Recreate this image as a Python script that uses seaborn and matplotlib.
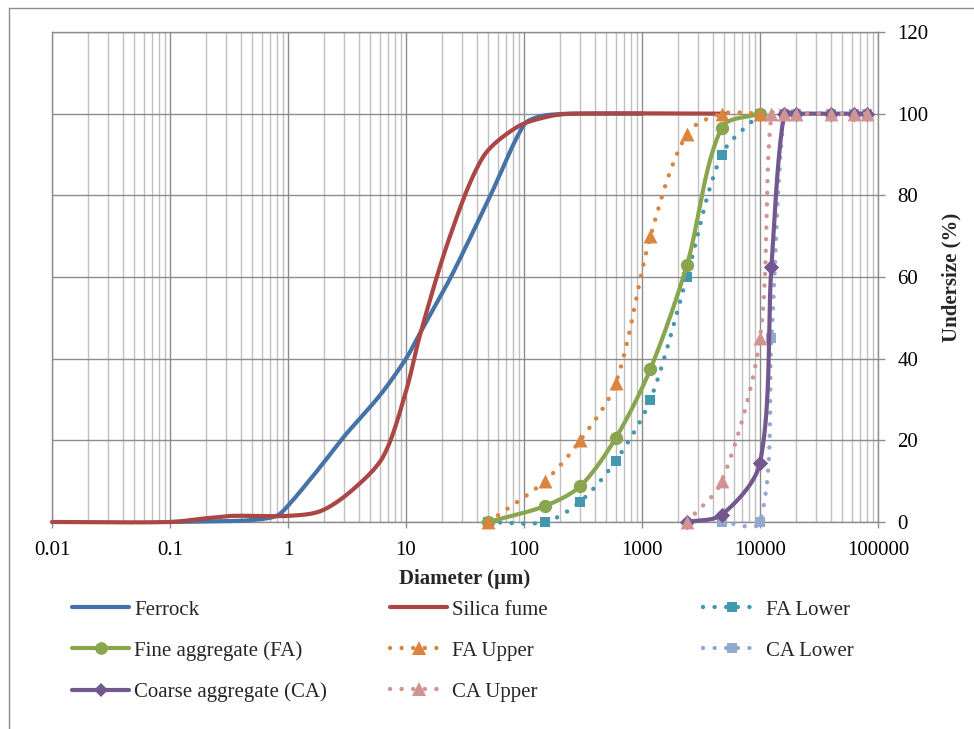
import numpy as np
import pandas as pd
import matplotlib
matplotlib.use("Agg")
import matplotlib.pyplot as plt
from matplotlib.lines import Line2D
from matplotlib.ticker import LogLocator, FixedLocator, FixedFormatter, NullFormatter
import seaborn as sns

# ---------------- data ----------------
ferrock_x = [0.1, 0.3, 0.5, 0.8, 1.0, 1.5, 2.0, 3.0, 6.0, 10, 13, 24, 52, 100, 135, 200, 300, 1000]
ferrock_y = [0, 0.2, 0.5, 1.5, 4.0, 10.0, 14.5, 21.0, 31.0, 40.0, 46.0, 60.0, 80.0, 97.3, 99.3, 99.9, 100, 100]

silica_x = [0.01, 0.1, 0.2, 0.34, 1.0, 1.9, 3.5, 6.4, 10, 13.2, 23.6, 45, 87, 160, 260, 5000]
silica_y = [0, 0, 0.9, 1.5, 1.5, 2.7, 7.8, 16.0, 32.0, 46.0, 70.0, 89.4, 96.7, 99.3, 100, 100]

fa_sieves = [50, 150, 300, 600, 1180, 2400, 4750, 10000]
fa_y = [0, 3.9, 8.8, 20.6, 37.5, 62.9, 96.6, 100]
fa_lower_y = [0, 0, 5, 15, 30, 60, 90, 100]
fa_upper_y = [0, 10, 20, 34, 70, 95, 100, 100]

ca_sieves = [2400, 4750, 10000, 12500, 16000, 20000, 40000, 63000, 80000]
ca_y = [0, 1.8, 14.5, 62.5, 100, 100, 100, 100, 100]
ca_upper_y = [0, 10, 45, 100, 100, 100, 100, 100, 100]
ca_lower_sieves = [4750, 10000, 12500, 16000, 20000, 40000, 63000, 80000]
ca_lower_y = [0, 0, 45, 100, 100, 100, 100, 100]

x_ticks = [0.01, 0.1, 1, 10, 100, 1000, 10000, 100000]
x_tick_labels = ["0.01", "0.1", "1", "10", "100", "1000", "10000", "100000"]
y_ticks = [0, 20, 40, 60, 80, 100, 120]
y_tick_labels = ["0", "20", "40", "60", "80", "100", "120"]

names = ["Ferrock", "Silica fume", "FA Lower", "Fine aggregate (FA)", "FA Upper",
         "CA Lower", "Coarse aggregate (CA)", "CA Upper"]

# ---------------- style ----------------
sns.set_theme(style="white")
plt.rcParams['font.family'] = ['Liberation Serif', 'DejaVu Serif']

W, H = 974, 729
fig = plt.figure(figsize=(W / 100, H / 100), dpi=100)
ax = fig.add_axes([52 / W, 1 - 522 / H, 826 / W, 490 / H])

PXDEC = 118.0
PXY = 490.0 / 120.0


def smooth(xs, ys, n=40, k=0.3):
    """Smoothed line through the points (Bezier, tangent scaled by chord length),
    computed in screen-like space."""
    u = np.log10(np.asarray(xs, float)) * PXDEC
    v = np.asarray(ys, float) * PXY
    P = np.column_stack([u, v])
    if len(P) < 3:
        return np.asarray(xs, float), np.asarray(ys, float)
    E = np.vstack([P[0], P, P[-1]])
    D = []
    for i in range(len(P)):
        d = E[i + 2] - E[i]
        nrm = np.hypot(*d)
        D.append(d / nrm if nrm > 0 else np.zeros(2))
    D = np.array(D)
    t = np.linspace(0, 1, n)[:, None]
    segs = []
    for i in range(len(P) - 1):
        p1, p2 = P[i], P[i + 1]
        L = np.hypot(*(p2 - p1))
        c1 = p1 + D[i] * L * k
        c2 = p2 - D[i + 1] * L * k
        seg = (1 - t) ** 3 * p1 + 3 * (1 - t) ** 2 * t * c1 + 3 * (1 - t) * t ** 2 * c2 + t ** 3 * p2
        segs.append(seg if i == 0 else seg[1:])
    S = np.vstack(segs)
    return 10 ** (S[:, 0] / PXDEC), S[:, 1] / PXY


DOT = (0, (0.01, 2.6))
series = [
    # name, x, y, color, linestyle, marker, marker size (pt)
    (names[0], ferrock_x, ferrock_y, "#4572A7", "-", None, 0),
    (names[1], silica_x, silica_y, "#AA4643", "-", None, 0),
    (names[2], fa_sieves, fa_lower_y, "#4198AF", DOT, "s", 7.8),
    (names[3], fa_sieves, fa_y, "#89A54E", "-", "o", 9.6),
    (names[4], fa_sieves, fa_upper_y, "#DB843D", DOT, "^", 10.0),
    (names[5], ca_lower_sieves, ca_lower_y, "#93A9CF", DOT, "s", 7.8),
    (names[6], ca_sieves, ca_y, "#71588F", "-", "D", 7.8),
    (names[7], ca_sieves, ca_upper_y, "#D09493", DOT, "^", 10.0),
]

handles = {}
z = 3
for name, xs, ys, col, ls, mk, ms in series:
    sx, sy = smooth(xs, ys)
    solid = ls == "-"
    lw = 3.0 if solid else 3.2
    sns.lineplot(x=sx, y=sy, sort=False, estimator=None, color=col, ax=ax,
                 linewidth=lw, linestyle=ls, dash_capstyle="round",
                 solid_capstyle="round", zorder=z, clip_on=False, legend=False)
    z += 1
    if mk is not None:
        sns.scatterplot(x=list(xs), y=list(ys), marker=mk, s=ms ** 2, color=col,
                        edgecolor=col, linewidth=0, ax=ax, zorder=z, clip_on=False,
                        legend=False)
        z += 1
    handles[name] = Line2D([], [], color=col, linewidth=lw, linestyle=ls,
                           dash_capstyle="round", solid_capstyle="round",
                           marker=mk if mk else None, markersize=ms * 0.95,
                           markeredgewidth=0, markerfacecolor=col)

# ---------------- axes ----------------
ax.set_xscale("log")
ax.set_xlim(0.01, 100000)
ax.set_ylim(0, 120)
ax.xaxis.set_major_locator(FixedLocator(x_ticks))
ax.xaxis.set_major_formatter(FixedFormatter(x_tick_labels))
ax.xaxis.set_minor_locator(LogLocator(base=10, subs=np.arange(2, 10), numticks=100))
ax.xaxis.set_minor_formatter(NullFormatter())
ax.yaxis.set_major_locator(FixedLocator(y_ticks))
ax.yaxis.set_major_formatter(FixedFormatter(y_tick_labels))
ax.yaxis.tick_right()

ax.set_axisbelow(True)
ax.grid(which="major", axis="both", color="#8C8C8C", linewidth=1.0)
ax.grid(which="minor", axis="x", color="#BFBFBF", linewidth=1.0)
for sp in ax.spines.values():
    sp.set_visible(True)
    sp.set_color("#8C8C8C")
    sp.set_linewidth(1.0)

ax.tick_params(axis="x", which="major", bottom=True, direction="out", length=4.5,
               width=1, color="#8C8C8C", labelsize=15, pad=9, labelcolor="black")
ax.tick_params(axis="x", which="minor", bottom=False, length=0)
ax.tick_params(axis="y", which="major", right=True, left=False, direction="out",
               length=5, width=1, color="#8C8C8C", labelsize=15, pad=9,
               labelcolor="black")
ax.set_xlabel("")
ax.set_ylabel("")

fig.text(465 / W, 1 - 579 / H, "Diameter (µm)", ha="center", va="center",
         fontsize=15, fontweight="bold")
fig.text(951 / W, 1 - 277 / H, "Undersize (%)", ha="center", va="center",
         rotation=90, fontsize=15, fontweight="bold")

# chart-area border (left and top edges visible)
fig.add_artist(Line2D([9 / W, 9 / W], [0, 1 - 8 / H], transform=fig.transFigure,
                      color="#8C8C8C", linewidth=1.0))
fig.add_artist(Line2D([9 / W, 1], [1 - 8 / H, 1 - 8 / H], transform=fig.transFigure,
                      color="#8C8C8C", linewidth=1.0))

# ---------------- legend (three columns) ----------------
cols = [
    ([names[0], names[3], names[6]], 72),
    ([names[1], names[4], names[7]], 390),
    ([names[2], names[5]], 703),
]
for labels, xpx in cols:
    fig.legend([handles[n] for n in labels], labels, loc="upper left",
               bbox_to_anchor=(xpx / W, 1 - 600 / H), frameon=False,
               fontsize=15, handlelength=2.75, handletextpad=0.25,
               labelspacing=1.03, borderpad=0, borderaxespad=0, numpoints=1)

fig.savefig("out.png", dpi=100)
